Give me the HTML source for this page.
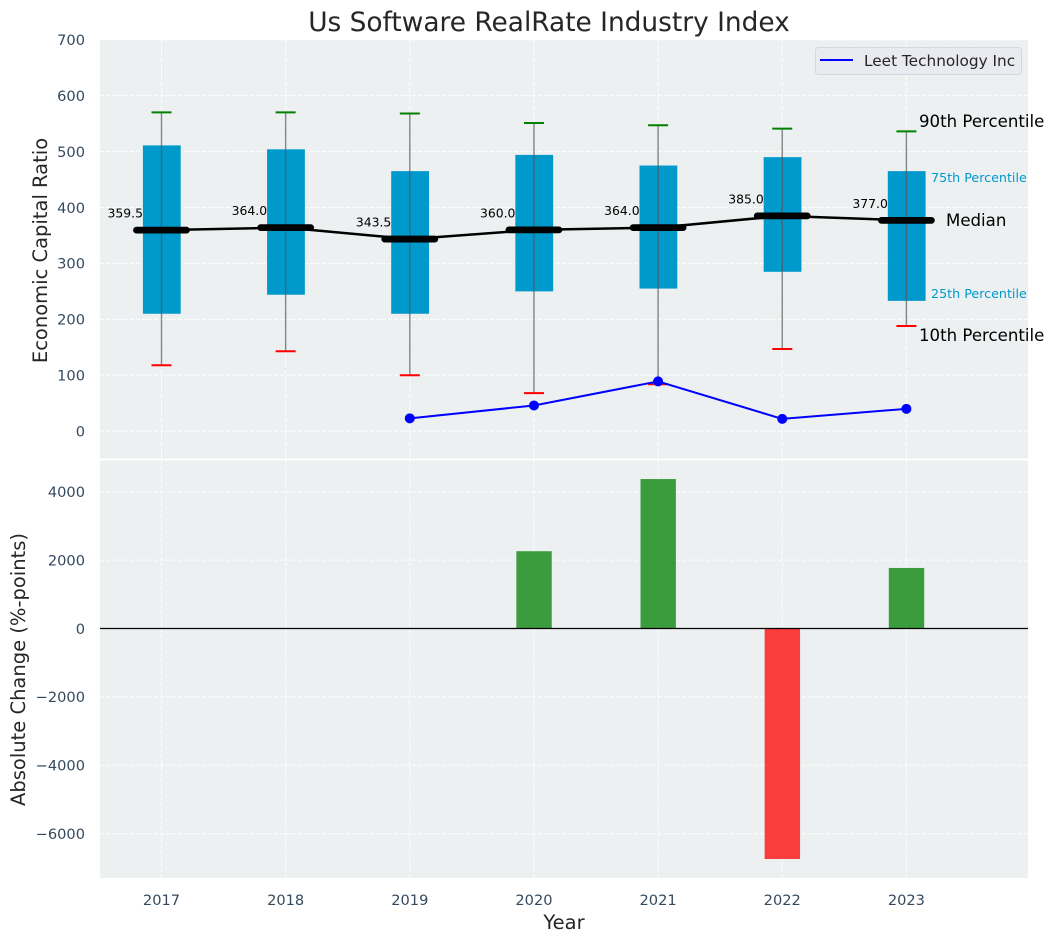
<!DOCTYPE html>
<html lang="en">
<head>
<meta charset="utf-8">
<title>Us Software RealRate Industry Index</title>
<style>
html,body{margin:0;padding:0;background:#fff;width:1054px;height:942px;overflow:hidden}
svg{display:block}
text{font-family:"DejaVu Sans","Liberation Sans",sans-serif}
</style>
</head>
<body>
<svg id="chart" xmlns="http://www.w3.org/2000/svg" width="1054" height="942" viewBox="0 0 1054 942">
  <rect x="100" y="40" width="928" height="418.5" fill="#ecf0f1"/>
  <rect x="100" y="460.5" width="928" height="417.5" fill="#ecf0f1"/>
  <g id="grid"></g>
  <g id="boxes"></g>
  <g id="medians"></g>
  <g id="leet"></g>
  <g id="bars"></g>
  <g id="ticks"></g>
  <text x="549" y="31" text-anchor="middle" font-size="26.4" fill="#262626">Us Software RealRate Industry Index</text>
  <text transform="translate(47,250.5) rotate(-90)" text-anchor="middle" font-size="19.5" fill="#262626">Economic Capital Ratio</text>
  <text transform="translate(25,669.5) rotate(-90)" text-anchor="middle" font-size="19.5" fill="#262626">Absolute Change (%-points)</text>
  <text x="564" y="929" text-anchor="middle" font-size="19.5" fill="#262626">Year</text>
  <g>
    <rect x="815.5" y="47.5" width="206" height="27" rx="3" fill="#eaebf0" stroke="#d5d9de" stroke-width="1"/>
    <line x1="820" y1="60" x2="853" y2="60" stroke="#0000ff" stroke-width="2"/>
    <text x="864" y="66" font-size="15.3" fill="#262626">Leet Technology Inc</text>
  </g>
  <g>
    <text x="919" y="127" font-size="16.6" fill="#000">90th Percentile</text>
    <text x="931" y="182" font-size="12.7" fill="#0099cc">75th Percentile</text>
    <text x="946" y="226" font-size="16.6" fill="#000">Median</text>
    <text x="931" y="298" font-size="12.7" fill="#0099cc">25th Percentile</text>
    <text x="919" y="341" font-size="16.6" fill="#000">10th Percentile</text>
  </g>
</svg>
<script>
const years = [2017, 2018, 2019, 2020, 2021, 2022, 2023];
const p90 = [570, 570, 568, 551, 547, 541, 536];
const p75 = [511, 504, 465, 494, 475, 490, 465];
const medianValues = [359.5, 364, 343.5, 360, 364, 385, 377];
const medianLabels = ["359.5", "364.0", "343.5", "360.0", "364.0", "385.0", "377.0"];
const p25 = [210, 244, 210, 250, 255, 285, 233];
const p10 = [118, 143, 100, 68, 84, 147, 188];
const leetValues = [null, null, 23, 46, 89, 22, 40];
const changeValues = [null, null, null, 2260, 4370, -6740, 1770];
const topTicks = [0, 100, 200, 300, 400, 500, 600, 700];
const bottomTicks = [-6000, -4000, -2000, 0, 2000, 4000];

const NS = 'http://www.w3.org/2000/svg';
const xScale = i => 161.5 + i * 124.15;
const yTop = v => 431.2 - v * 0.5593;
const yBottom = v => 628.5 - v * 0.0342;

function make(parent, tag, attrs, text) {
  const el = document.createElementNS(NS, tag);
  Object.keys(attrs).forEach(k => el.setAttribute(k, attrs[k]));
  if (text !== undefined) el.textContent = text;
  parent.appendChild(el);
  return el;
}
const gridG = document.getElementById('grid');
const boxG = document.getElementById('boxes');
const medG = document.getElementById('medians');
const leetG = document.getElementById('leet');
const barG = document.getElementById('bars');
const tickG = document.getElementById('ticks');
const gridStyle = {stroke: '#ffffff', 'stroke-width': 1, 'stroke-dasharray': '4 2', fill: 'none', opacity: 0.9};
const tickColor = '#34495e';

topTicks.forEach(t => {
  const y = yTop(t);
  const g = make(gridG, 'line', Object.assign({x1: 100, x2: 1028, y1: y, y2: y}, gridStyle));
  
  
  const l = make(tickG, 'text', {x: 85, y: y + 5.3, 'text-anchor': 'end', 'font-size': 14.6, fill: tickColor}, String(t));
  
  
});
bottomTicks.forEach(t => {
  const y = yBottom(t);
  const g = make(gridG, 'line', Object.assign({x1: 100, x2: 1028, y1: y, y2: y}, gridStyle));
  
  
  const label = t < 0 ? '\u2212' + Math.abs(t) : String(t);
  const l = make(tickG, 'text', {x: 85, y: y + 5.3, 'text-anchor': 'end', 'font-size': 14.6, fill: tickColor}, label);
  
  
});
years.forEach((yr, i) => {
  const x = xScale(i);
  const g1 = make(gridG, 'line', Object.assign({x1: x, x2: x, y1: 40, y2: 458.5}, gridStyle));
  
  
  const g2 = make(gridG, 'line', Object.assign({x1: x, x2: x, y1: 460.5, y2: 878}, gridStyle));
  
  
  const l = make(tickG, 'text', {x: x, y: 905, 'text-anchor': 'middle', 'font-size': 14.6, fill: tickColor}, String(yr));
  
  

  const box = make(boxG, 'rect', {x: x - 18.6, y: yTop(p75[i]), width: 37.8, height: yTop(p25[i]) - yTop(p75[i]), fill: '#0099cc'});
  
  
  const w = make(boxG, 'line', {x1: x, x2: x, y1: yTop(p90[i]), y2: yTop(p10[i]), stroke: '#555', 'stroke-width': 1.4, opacity: 0.7});
  
  
  const capHi = make(boxG, 'line', {x1: x - 10, x2: x + 10, y1: yTop(p90[i]), y2: yTop(p90[i]), stroke: '#008000', 'stroke-width': 2});
  
  
  const capLo = make(boxG, 'line', {x1: x - 10, x2: x + 10, y1: yTop(p10[i]), y2: yTop(p10[i]), stroke: '#ff0000', 'stroke-width': 2});
  
  
});

const medPts = medianValues.map((v, i) => xScale(i) + ',' + yTop(v)).join(' ');
const medLine = make(medG, 'polyline', {points: medPts, fill: 'none', stroke: '#000', 'stroke-width': 2.5});


medianValues.forEach((v, i) => {
  const x = xScale(i);
  const y = yTop(v);
  const m = make(medG, 'line', {x1: x - 25, x2: x + 25, y1: y, y2: y, stroke: '#000', 'stroke-width': 6.8, 'stroke-linecap': 'round'});
  
  
  const t = make(medG, 'text', {x: x - 18.5, y: y - 12.5, 'text-anchor': 'end', 'font-size': 12.4, fill: '#000'}, medianLabels[i]);
  
  
});

const leetPts = [];
leetValues.forEach((v, i) => {
  if (v === null) return;
  leetPts.push(xScale(i) + ',' + yTop(v));
});
const leetLine = make(leetG, 'polyline', {points: leetPts.join(' '), fill: 'none', stroke: '#0000ff', 'stroke-width': 2});


leetValues.forEach((v, i) => {
  if (v === null) return;
  const c = make(leetG, 'circle', {cx: xScale(i), cy: yTop(v), r: 5, fill: '#0000ff'});
  
  
});

changeValues.forEach((v, i) => {
  if (v === null) return;
  const y0 = yBottom(0);
  const y1 = yBottom(v);
  const b = make(barG, 'rect', {x: xScale(i) - 17.6, y: Math.min(y0, y1), width: 35.4, height: Math.abs(y1 - y0), fill: v >= 0 ? '#008000' : '#ff0000', opacity: 0.75});
  
  
});
const zero = make(barG, 'line', {x1: 100, x2: 1028, y1: yBottom(0), y2: yBottom(0), stroke: '#000', 'stroke-width': 1.2});


</script>
</body>
</html>
